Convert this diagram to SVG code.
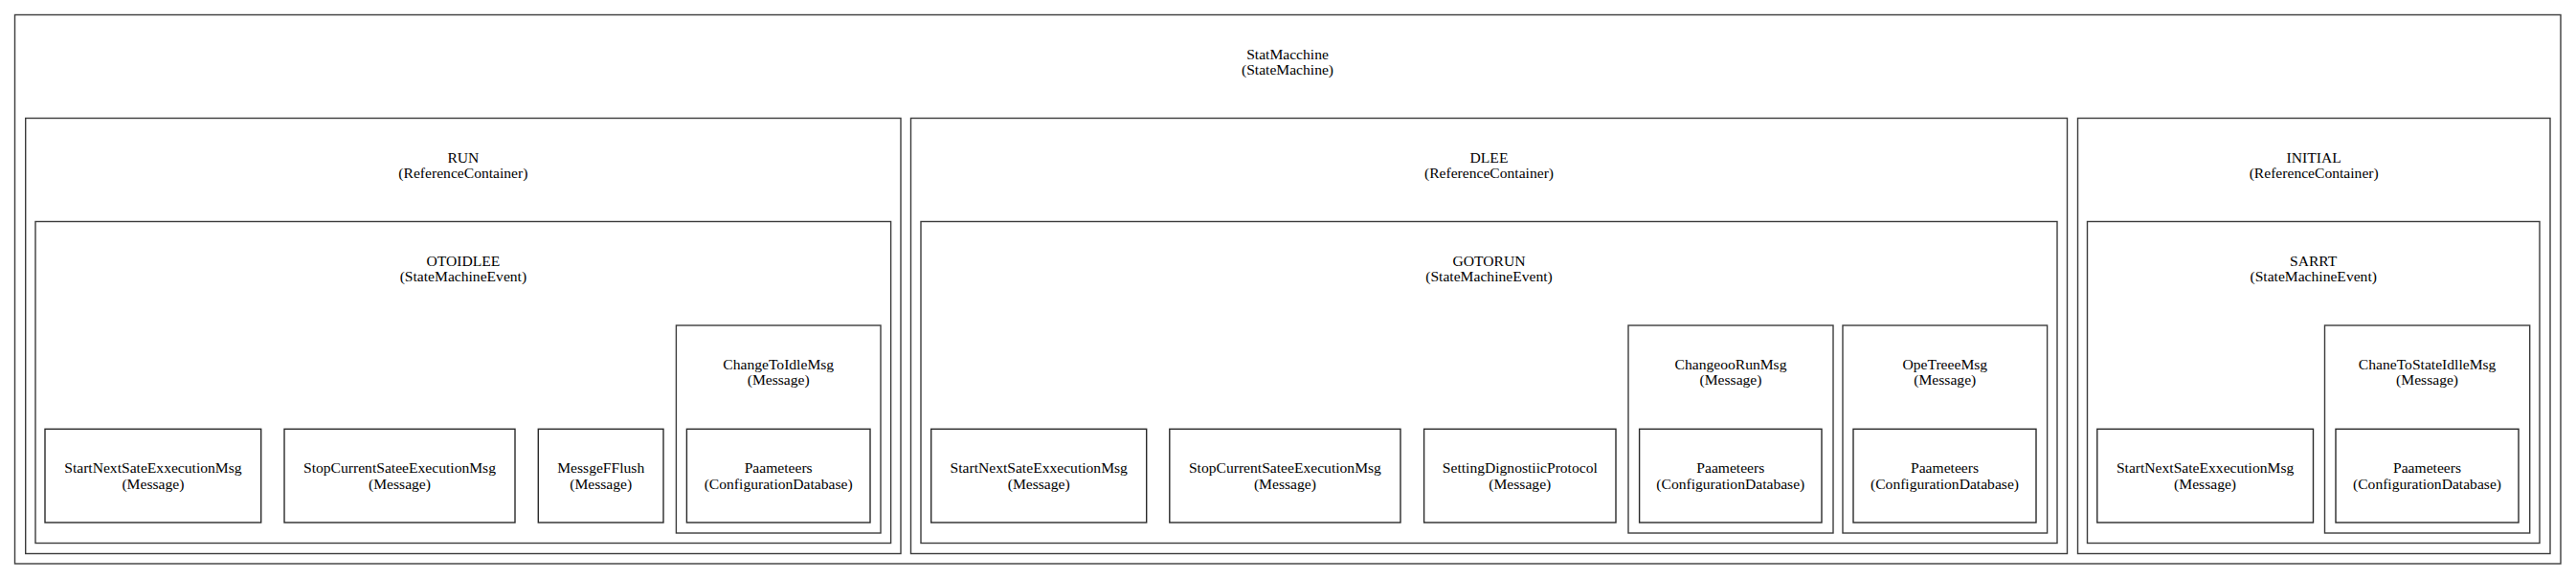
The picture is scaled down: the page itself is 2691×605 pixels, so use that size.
<svg xmlns="http://www.w3.org/2000/svg" width="2691" height="605" viewBox="0 0 2691 605">
<style>
rect.c{fill:none;stroke:#3c3c3c;stroke-width:1.4}
rect.n{fill:none;stroke:#2a2a2a;stroke-width:1.4}
text{font-family:"Liberation Serif","Times New Roman",serif;font-size:15.6px;fill:#000;text-anchor:middle}
</style>
<rect x="0" y="0" width="2691" height="605" fill="#fff"/>
<g id="StatMacchine">
<rect class="c" x="15.5" y="15.5" width="2659.5" height="573.5"/>
<text x="1345" y="61.5">StatMacchine</text>
<text x="1345" y="78">(StateMachine)</text>
</g>
<g id="RUN">
<rect class="c" x="26.7" y="123.5" width="914.3" height="455"/>
<text x="483.9" y="169.5">RUN</text>
<text x="483.9" y="186">(ReferenceContainer)</text>
</g>
<g id="OTOIDLEE">
<rect class="c" x="37" y="231.5" width="893.6" height="336"/>
<text x="483.9" y="277.5">OTOIDLEE</text>
<text x="483.9" y="294">(StateMachineEvent)</text>
</g>
<g id="RUN_StartNextSateExxecutionMsg">
<rect class="n" x="47" y="448.3" width="225.7" height="97.7"/>
<text x="159.9" y="494.3">StartNextSateExxecutionMsg</text>
<text x="159.9" y="510.8">(Message)</text>
</g>
<g id="RUN_StopCurrentSateeExecutionMsg">
<rect class="n" x="297" y="448.3" width="241" height="97.7"/>
<text x="417.5" y="494.3">StopCurrentSateeExecutionMsg</text>
<text x="417.5" y="510.8">(Message)</text>
</g>
<g id="MessgeFFlush">
<rect class="n" x="562.3" y="448.3" width="130.7" height="97.7"/>
<text x="627.7" y="494.3">MessgeFFlush</text>
<text x="627.7" y="510.8">(Message)</text>
</g>
<g id="ChangeToIdleMsg">
<rect class="c" x="706.4" y="340" width="213.6" height="217"/>
<text x="813.2" y="385.8">ChangeToIdleMsg</text>
<text x="813.2" y="402.3">(Message)</text>
</g>
<g id="RUN_Paameteers">
<rect class="n" x="717.4" y="448.3" width="191.6" height="97.7"/>
<text x="813.2" y="494.3">Paameteers</text>
<text x="813.2" y="510.8">(ConfigurationDatabase)</text>
</g>
<g id="DLEE">
<rect class="c" x="951.5" y="123.5" width="1208" height="455"/>
<text x="1555.5" y="169.5">DLEE</text>
<text x="1555.5" y="186">(ReferenceContainer)</text>
</g>
<g id="GOTORUN">
<rect class="c" x="962" y="231.5" width="1187" height="336"/>
<text x="1555.5" y="277.5">GOTORUN</text>
<text x="1555.5" y="294">(StateMachineEvent)</text>
</g>
<g id="DLEE_StartNextSateExxecutionMsg">
<rect class="n" x="972.7" y="448.3" width="225" height="97.7"/>
<text x="1085.2" y="494.3">StartNextSateExxecutionMsg</text>
<text x="1085.2" y="510.8">(Message)</text>
</g>
<g id="DLEE_StopCurrentSateeExecutionMsg">
<rect class="n" x="1221.8" y="448.3" width="241.2" height="97.7"/>
<text x="1342.4" y="494.3">StopCurrentSateeExecutionMsg</text>
<text x="1342.4" y="510.8">(Message)</text>
</g>
<g id="SettingDignostiicProtocol">
<rect class="n" x="1487.6" y="448.3" width="200.4" height="97.7"/>
<text x="1587.8" y="494.3">SettingDignostiicProtocol</text>
<text x="1587.8" y="510.8">(Message)</text>
</g>
<g id="ChangeooRunMsg">
<rect class="c" x="1701" y="340" width="214" height="217"/>
<text x="1808" y="385.8">ChangeooRunMsg</text>
<text x="1808" y="402.3">(Message)</text>
</g>
<g id="ChangeooRunMsg_Paameteers">
<rect class="n" x="1712.6" y="448.3" width="190.4" height="97.7"/>
<text x="1807.8" y="494.3">Paameteers</text>
<text x="1807.8" y="510.8">(ConfigurationDatabase)</text>
</g>
<g id="OpeTreeeMsg">
<rect class="c" x="1925" y="340" width="213.6" height="217"/>
<text x="2031.8" y="385.8">OpeTreeeMsg</text>
<text x="2031.8" y="402.3">(Message)</text>
</g>
<g id="OpeTreeeMsg_Paameteers">
<rect class="n" x="1936" y="448.3" width="191" height="97.7"/>
<text x="2031.5" y="494.3">Paameteers</text>
<text x="2031.5" y="510.8">(ConfigurationDatabase)</text>
</g>
<g id="INITIAL">
<rect class="c" x="2170.5" y="123.5" width="493.5" height="455"/>
<text x="2417.2" y="169.5">INITIAL</text>
<text x="2417.2" y="186">(ReferenceContainer)</text>
</g>
<g id="SARRT">
<rect class="c" x="2180.5" y="231.5" width="472.5" height="336"/>
<text x="2416.7" y="277.5">SARRT</text>
<text x="2416.7" y="294">(StateMachineEvent)</text>
</g>
<g id="INITIAL_StartNextSateExxecutionMsg">
<rect class="n" x="2190.8" y="448.3" width="225.7" height="97.7"/>
<text x="2303.6" y="494.3">StartNextSateExxecutionMsg</text>
<text x="2303.6" y="510.8">(Message)</text>
</g>
<g id="ChaneToStateIdlleMsg">
<rect class="c" x="2428.5" y="340" width="214.2" height="217"/>
<text x="2535.6" y="385.8">ChaneToStateIdlleMsg</text>
<text x="2535.6" y="402.3">(Message)</text>
</g>
<g id="ChaneToStateIdlleMsg_Paameteers">
<rect class="n" x="2440" y="448.3" width="191" height="97.7"/>
<text x="2535.5" y="494.3">Paameteers</text>
<text x="2535.5" y="510.8">(ConfigurationDatabase)</text>
</g>
<g id="connectors"></g>
</svg>
